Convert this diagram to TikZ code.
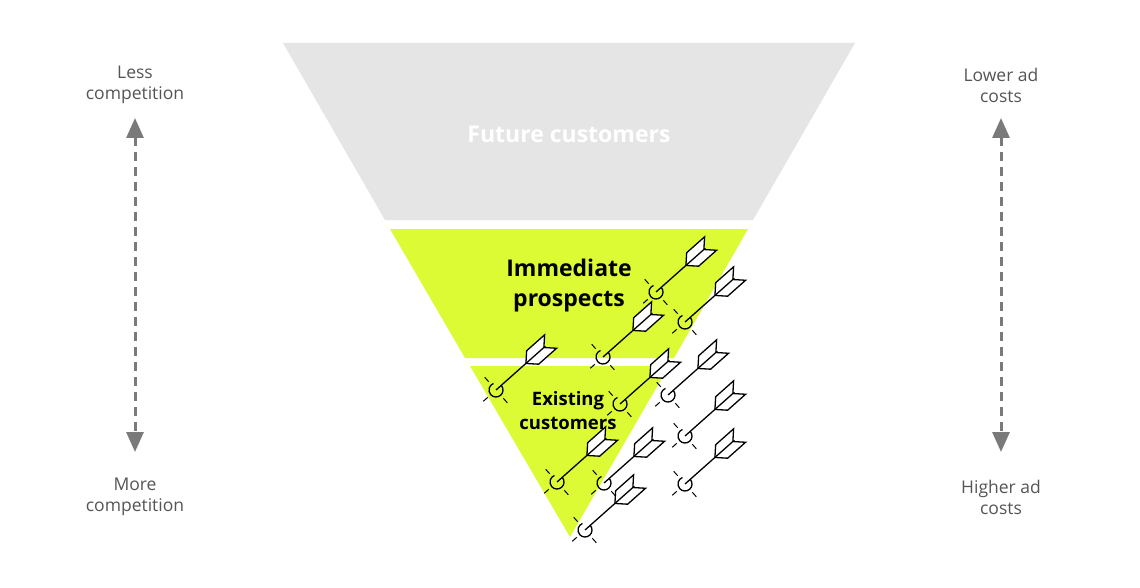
\documentclass[tikz,border=0pt]{standalone}
\usepackage{fontspec}
\setmainfont{Open Sans}
\usetikzlibrary{arrows.meta}
\definecolor{lime}{HTML}{DDFB35}
\definecolor{funnelgray}{HTML}{E6E5E5}
\definecolor{labelgray}{HTML}{555555}
\definecolor{arrowgray}{HTML}{7A7A7A}
\tikzset{
  side/.style={text=labelgray,font=\fontsize{17.5}{21}\selectfont,align=center},
  vert/.style={draw=arrowgray,line width=3pt,dash pattern=on 9pt off 6pt,
    {Triangle[length=20pt,width=17pt]}-{Triangle[length=20pt,width=17pt]}},
  pics/dart/.style={code={
    \draw[line width=1.3pt] (7,0) arc[start angle=0,end angle=290,radius=7];
    \draw[line width=1.3pt] (0,0) -- (66,0);
    \draw[line width=1.3pt,fill=white,line join=miter] (40,0) -- (49,9) -- (73,9) -- (64,0) -- (73,-9) -- (49,-9) -- cycle;
    \draw[line width=1.3pt] (40,0) -- (64,0);
    \foreach \a in {90,180,270}{\draw[line width=1pt] (\a:11) -- (\a:17);}
  }}
}
\begin{document}
\begin{tikzpicture}[x=1pt,y=-1pt]
\useasboundingbox[fill=white] (0,0) rectangle (1140,588);
\fill[funnelgray] (283,43) -- (855,43) -- (753,220) -- (385,220) -- cycle;
\fill[lime] (390,229) -- (748,229) -- (674,358) -- (465,358) -- cycle;
\fill[lime] (470,366) -- (669,366) -- (570,537) -- cycle;
\node[text=white,font=\bfseries\fontsize{23}{27}\selectfont] (future) at (569,134) {Future customers};
\node[font=\bfseries\fontsize{23}{30}\selectfont,align=center] (imm) at (569,286) {Immediate\\prospects};
\node[font=\bfseries\fontsize{18.5}{24}\selectfont,align=center] (exist) at (568,411) {Existing\\customers};
\foreach \x/\y [count=\i] in {656/292,685/322,603/357,496/390,620/404,668/395,685/436,557/482,604/483,685/484,585/530}
  \pic[rotate=41.6] (d\i) at (\x,\y) {dart};
\node[side] (less) at (135,85) {Less\\competition};
\node[side] (more) at (135,497) {More\\competition};
\node[side] (lower) at (1001,85) {Lower ad\\costs};
\node[side] (higher) at (1001,497) {Higher ad\\costs};
\coordinate (la) at (135,118); \coordinate (lb) at (135,452);
\coordinate (ra) at (1001,118); \coordinate (rb) at (1001,452);
\draw[vert] (la) -- (lb);
\draw[vert] (ra) -- (rb);
\end{tikzpicture}
\end{document}
